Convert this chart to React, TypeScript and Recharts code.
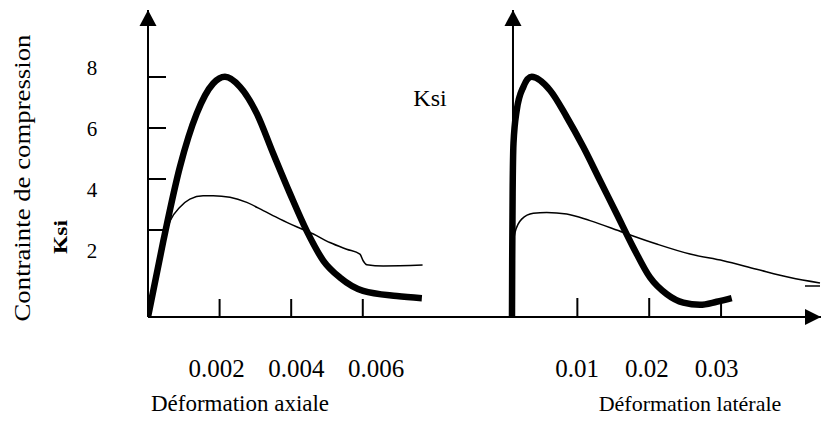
import React from 'react';
import { LineChart, Line, XAxis, YAxis, ReferenceLine, ReferenceDot } from 'recharts';

const FONT = '"Liberation Serif", "Times New Roman", serif';

// tick values
const stressTicks = [2, 4, 6, 8];
const axialTicks = [0.002, 0.004, 0.006];
const lateralTicks = [0.01, 0.02, 0.03];

// [strain, stress (Ksi)]
const axialThick = [
  [0, 0], [0.00043, 2.51], [0.00089, 4.93], [0.00136, 6.69], [0.00182, 7.68],
  [0.00215, 7.9], [0.00257, 7.57], [0.00304, 6.69], [0.0035, 5.37], [0.00397, 4.05],
  [0.00443, 2.84], [0.0049, 1.85], [0.00536, 1.3], [0.00601, 0.86], [0.00695, 0.69],
  [0.00765, 0.62],
];
const axialThin = [
  [0, 0], [0.00022, 1.52], [0.00043, 2.51], [0.00062, 3.17], [0.00089, 3.61],
  [0.00117, 3.88], [0.00154, 3.99], [0.00182, 3.99], [0.00229, 3.94], [0.00276, 3.77],
  [0.00322, 3.5], [0.00369, 3.22], [0.00415, 2.97], [0.00462, 2.73], [0.00508, 2.45],
  [0.00555, 2.23], [0.00592, 2.07], [0.00601, 1.85], [0.00611, 1.72], [0.00657, 1.68],
  [0.00767, 1.71],
];
const lateralThick = [
  [0.0009, 0], [0.00093, 1.85], [0.00099, 4.06], [0.00111, 5.71], [0.00156, 6.8],
  [0.00248, 7.57], [0.00365, 7.9], [0.00619, 7.46], [0.00852, 6.58], [0.01083, 5.59],
  [0.01315, 4.49], [0.01548, 3.39], [0.01779, 2.29], [0.02011, 1.3], [0.02244, 0.75],
  [0.02475, 0.47], [0.02707, 0.4], [0.02939, 0.5], [0.03148, 0.62],
];
const lateralThin = [
  [0.00111, 2.51], [0.00132, 2.78], [0.00225, 3.22], [0.00387, 3.41], [0.00573, 3.44],
  [0.00852, 3.39], [0.01176, 3.17], [0.0164, 2.78], [0.02104, 2.4], [0.02568, 2.07],
  [0.03031, 1.85], [0.03496, 1.57], [0.0396, 1.3], [0.04377, 1.12],
];
const lateralHook = [[0.04168, 1.02], [0.04377, 1.02]];

const pts = (arr: number[][]) => arr.map(([x, y]) => ({ x, y }));

// y axis of the lateral panel sits a little right of the lateral zero
const lateralAxisAt = 0.00104;

const StressTick = (props: any) => {
  const { x, y, payload } = props;
  return (
    <text x={x - 57} y={y - 5.5} textAnchor="middle" dominantBaseline="central"
      fontFamily={FONT} fontSize={21} fill="#000">
      {payload.value}
    </text>
  );
};

const StrainTick = (props: any) => {
  const { x, y, payload } = props;
  return (
    <text x={x} y={y} textAnchor="middle" fontFamily={FONT} fontSize={25} fill="#000">
      {payload.value}
    </text>
  );
};

const Blank = () => <g />;

const arrowUp = (props: any) => {
  const { cx, cy } = props;
  return <polygon points={`${cx},${cy} ${cx - 8.5},${cy + 16} ${cx + 8.5},${cy + 16}`} fill="#000" />;
};

const arrowRight = (props: any) => {
  const { cx, cy } = props;
  return <polygon points={`${cx},${cy} ${cx - 16},${cy - 8} ${cx - 16},${cy + 8}`} fill="#000" />;
};

export default function App() {
  const black = { stroke: '#000', strokeWidth: 2 };
  return (
    <div style={{ position: 'absolute', left: 0, top: 0, width: 821, height: 426, background: '#fff' }}>
      <LineChart width={821} height={426} margin={{ top: 10, right: 0, bottom: 107, left: 148 }}>
        {/* axial strain: axis line + tick marks */}
        <XAxis xAxisId="a" type="number" dataKey="x" domain={[0, 0.0188]} allowDataOverflow
          ticks={axialTicks} mirror height={1} tickSize={18} tick={<Blank />}
          axisLine={black} tickLine={black} />
        {/* lateral strain: tick marks */}
        <XAxis xAxisId="l" type="number" dataKey="x" domain={[-0.04976, 0.04391]} allowDataOverflow
          ticks={lateralTicks} mirror height={1} tickSize={18} tick={<Blank />}
          axisLine={false} tickLine={black} />
        {/* tick labels (placed a bit apart from the marks, as in the figure) */}
        <XAxis xAxisId="al" type="number" dataKey="x" domain={[0.000282, 0.01716]} allowDataOverflow
          ticks={axialTicks} height={1} tickSize={0} tickMargin={60}
          axisLine={false} tickLine={false} tick={<StrainTick />} />
        <XAxis xAxisId="ll" type="number" dataKey="x" domain={[-0.05151, 0.04498]} allowDataOverflow
          ticks={lateralTicks} height={1} tickSize={0} tickMargin={59}
          axisLine={false} tickLine={false} tick={<StrainTick />} />

        <YAxis yAxisId="v" type="number" domain={[0, 10.1]} allowDataOverflow
          ticks={stressTicks} mirror width={1} tickSize={0} tickMargin={0}
          axisLine={false} tickLine={false} tick={<StressTick />} />
        <YAxis yAxisId="t" type="number" domain={[-1.412, 10.627]} allowDataOverflow
          ticks={stressTicks} mirror width={1} tickSize={18} tick={<Blank />}
          axisLine={black} tickLine={black} />

        <ReferenceLine xAxisId="l" yAxisId="v" x={lateralAxisAt} stroke="#000" strokeWidth={2} />
        {/* label axes carry no series; these invisible references give them a domain */}
        <ReferenceLine xAxisId="al" yAxisId="v" x={axialTicks[0]} ifOverflow="extendDomain" stroke="none" />
        <ReferenceLine xAxisId="ll" yAxisId="v" x={lateralTicks[0]} ifOverflow="extendDomain" stroke="none" />

        <Line xAxisId="a" yAxisId="v" data={pts(axialThin)} dataKey="y" type="monotone"
          stroke="#000" strokeWidth={1.5} dot={false} isAnimationActive={false} />
        <Line xAxisId="a" yAxisId="v" data={pts(axialThick)} dataKey="y" type="monotone"
          stroke="#000" strokeWidth={6.5} dot={false} isAnimationActive={false} />
        <Line xAxisId="l" yAxisId="v" data={pts(lateralThin)} dataKey="y" type="monotone"
          stroke="#000" strokeWidth={1.5} dot={false} isAnimationActive={false} />
        <Line xAxisId="l" yAxisId="v" data={pts(lateralHook)} dataKey="y" type="linear"
          stroke="#000" strokeWidth={1.5} dot={false} isAnimationActive={false} />
        <Line xAxisId="l" yAxisId="v" data={pts(lateralThick)} dataKey="y" type="monotone"
          stroke="#000" strokeWidth={6.5} dot={false} isAnimationActive={false} />

        <ReferenceDot xAxisId="a" yAxisId="v" x={0} y={10.1} shape={arrowUp} />
        <ReferenceDot xAxisId="l" yAxisId="v" x={lateralAxisAt} y={10.1} shape={arrowUp} />
        <ReferenceDot xAxisId="a" yAxisId="v" x={0.0188} y={0} shape={arrowRight} />
      </LineChart>

      <svg width={821} height={426} style={{ position: 'absolute', left: 0, top: 0, pointerEvents: 'none' }}
        fontFamily={FONT} fill="#000">
        <text x={22} y={178} transform="rotate(-90 22 178)" textAnchor="middle" dominantBaseline="central"
          fontSize={24} textLength={287} lengthAdjust="spacingAndGlyphs">
          Contrainte de compression
        </text>
        <text x={61} y={237} transform="rotate(-90 61 237)" textAnchor="middle" dominantBaseline="central"
          fontSize={18} fontWeight="bold" textLength={34} lengthAdjust="spacingAndGlyphs">
          Ksi
        </text>
        <text x={430} y={98} textAnchor="middle" dominantBaseline="central" fontSize={24}>Ksi</text>
        <text x={240} y={403} textAnchor="middle" dominantBaseline="central" fontSize={23}>Déformation axiale</text>
        <text x={690} y={403} textAnchor="middle" dominantBaseline="central" fontSize={22}>Déformation latérale</text>
      </svg>
    </div>
  );
}
